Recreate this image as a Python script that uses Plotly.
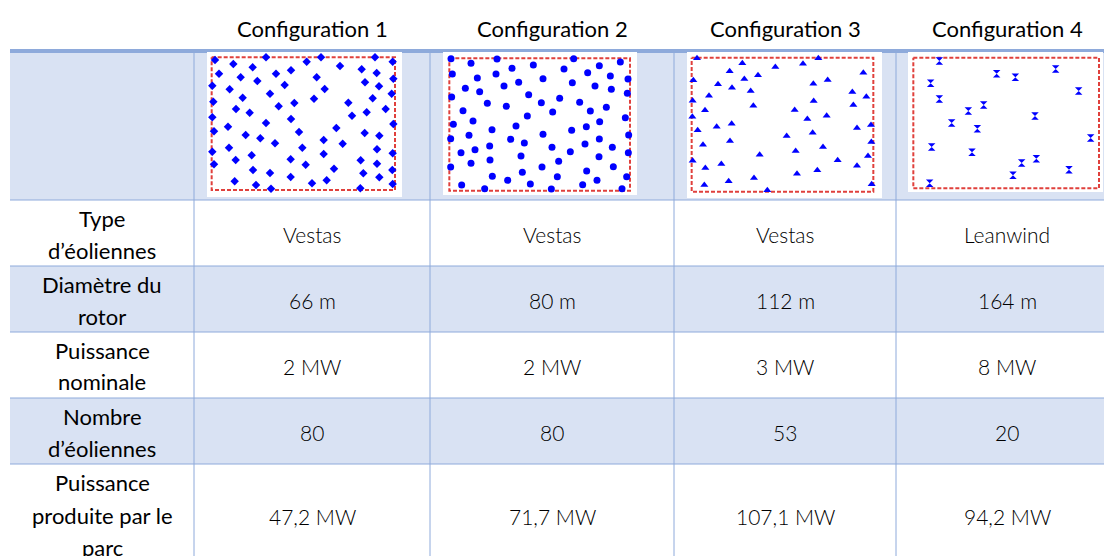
import plotly.graph_objects as go

W, H = 1104, 556

# ---------------- data ----------------
configs = ["Configuration 1", "Configuration 2", "Configuration 3", "Configuration 4"]
row_labels = ["Type\nd’éoliennes", "Diamètre du\nrotor", "Puissance\nnominale",
              "Nombre\nd’éoliennes", "Puissance\nproduite par le\nparc"]
turbine_type = ["Vestas", "Vestas", "Vestas", "Leanwind"]
rotor_diameter_m = [66, 80, 112, 164]
rated_power_mw = [2, 2, 3, 8]
n_turbines = [80, 80, 53, 20]
park_power_mw = [47.2, 71.7, 107.1, 94.2]

# turbine layouts (site units, y grows downward)
cfg1_x = [45, 100, 198, 320, 363, 420, 525, 578, 57, 158, 228, 273, 485, 530, 122, 172, 350, 495, 580,
          37, 89, 254, 374, 537, 128, 210, 342, 518, 575, 40, 283, 445, 108, 149, 236, 500, 557, 37, 273, 456,
          84, 198, 580, 42, 137, 297, 409, 494, 538, 181, 225, 371, 428, 87, 307, 531, 37, 155, 371, 578,
          107, 272, 482, 42, 317, 531, 159, 402, 577, 210, 490, 272, 538, 104, 380, 336, 168, 578, 213, 481]
cfg1_y = [45, 57, 37, 50, 37, 63, 37, 50, 86, 67, 86, 76, 73, 84, 97, 108, 97, 112, 101,
          122, 133, 120, 132, 124, 158, 146, 161, 160, 146, 170, 174, 173, 192, 203, 184, 202, 192, 217, 222, 212,
          245, 234, 237, 259, 270, 261, 249, 264, 272, 280, 295, 285, 296, 308, 308, 313, 320, 331, 327, 325,
          345, 343, 346, 358, 359, 356, 375, 371, 375, 384, 385, 396, 397, 409, 406, 415, 420, 417, 431, 430]

cfg2_x = [48, 108, 186, 295, 416, 493, 556, 52, 231, 387, 458, 526, 127, 183, 324, 579,
          91, 134, 207, 251, 412, 480, 529, 50, 281, 374, 577, 157, 214, 319, 434, 514, 84, 353, 466,
          114, 277, 571, 494, 55, 243, 454, 171, 410, 102, 324, 581, 493, 47, 227, 268, 450,
          164, 351, 532, 78, 120, 406, 580, 258, 492, 165, 371, 108, 321, 535, 47, 262, 455,
          172, 367, 575, 218, 486, 80, 286, 443, 149, 349, 561]
cfg2_y = [41, 55, 42, 60, 41, 62, 51, 87, 70, 72, 83, 93, 99, 87, 101, 102,
          130, 140, 123, 112, 113, 123, 133, 156, 149, 160, 145, 175, 184, 173, 172, 187, 197, 201, 198,
          228, 213, 218, 230, 238, 243, 245, 254, 256, 271, 268, 270, 282, 281, 283, 294, 297,
          303, 307, 307, 323, 314, 320, 323, 333, 335, 345, 349, 355, 366, 365, 366, 382, 378,
          394, 395, 395, 406, 406, 420, 417, 419, 431, 432, 431]

cfg3_x = [51, 187, 286, 369, 415, 149, 550, 40, 193, 234, 443, 114, 156, 400, 212, 517, 87, 559,
          38, 401, 220, 520, 75, 344, 37, 440, 382, 110, 155, 573, 531, 53, 398, 320, 150, 574,
          69, 429, 347, 239, 564, 38, 473, 124, 531, 76, 412, 351, 222, 146, 73, 575, 262]
cfg3_y = [40, 55, 66, 56, 40, 79, 83, 106, 102, 91, 105, 118, 128, 116, 138, 141, 152, 155,
          167, 168, 182, 180, 196, 195, 215, 212, 222, 245, 236, 240, 249, 256, 263, 273, 288, 291,
          299, 306, 318, 329, 333, 347, 346, 357, 362, 369, 376, 386, 399, 409, 420, 418, 436]

cfg4_x = [118, 290, 346, 467, 92, 536, 118, 251, 205, 405, 155, 232, 572, 95, 216, 409, 365, 507, 339, 89]
cfg4_y = [48, 86, 97, 72, 115, 138, 162, 180, 198, 213, 234, 251, 279, 306, 322, 341, 354, 374, 391, 415]

# site boundaries (site units)
site_x0 = [35, 43, 35, 40]
site_x1 = [585, 585, 580, 597]
site_y0 = [37, 40, 38, 38]
site_y1 = [435, 437, 440, 430]

layouts_x = [cfg1_x, cfg2_x, cfg3_x, cfg4_x]
layouts_y = [cfg1_y, cfg2_y, cfg3_y, cfg4_y]

# ---------------- styling / layout ----------------
BLUE_BG = "#d9e2f3"
LINE = "#8eaadb"
col_edges = [10, 194, 430, 674, 896, 1118]
row_edges = [200, 266, 332, 398, 464, 566]
symbols = ["diamond", "circle", "triangle-up", "hourglass"]
msize = [6.5, 7, 7, 7.5]
panel_left = [207, 443, 687, 908]
panel_right = [402, 637, 882, 1103]
panel_top = [52, 52, 52, 52]
panel_bottom = [197, 195, 198, 192]
origin_x = [200, 435, 680, 900]
origin_y = 45
SCALE = 3.0

FONT = "Lato, 'Noto Sans', sans-serif"


def px(x):
    return x / W


def py(y):
    return 1 - y / H


fig = go.Figure()
shapes = []
annotations = []


def rect(x0, y0, x1, y1, color):
    shapes.append(dict(type="rect", xref="paper", yref="paper", x0=px(x0), x1=px(x1),
                       y0=py(y1), y1=py(y0), fillcolor=color, line=dict(width=0), layer="below"))


def line(x0, y0, x1, y1, color, width=1):
    shapes.append(dict(type="line", xref="paper", yref="paper", x0=px(x0), x1=px(x1),
                       y0=py(y0), y1=py(y1), line=dict(color=color, width=width), layer="below"))


def text(x, y, t, size, weight=400):
    annotations.append(dict(xref="paper", yref="paper", x=px(x), y=py(y), text=t,
                            showarrow=False, xanchor="center", yanchor="middle",
                            font=dict(family=FONT, size=size, color="#000000", weight=weight)))


# row backgrounds
rect(col_edges[0], 53, W, 200, BLUE_BG)
for i in range(len(row_edges) - 1):
    if i % 2 == 1:
        rect(col_edges[0], row_edges[i], W, row_edges[i + 1], BLUE_BG)
# header thick line
rect(col_edges[0], 49, W, 53, LINE)
# grid lines
for y in row_edges[:-1]:
    line(col_edges[0], y, W, y, LINE)
for x in col_edges[1:-1]:
    line(x, 53, x, H, LINE)

# white image panels
for i in range(4):
    rect(panel_left[i], panel_top[i], panel_right[i], panel_bottom[i], "#ffffff")

# header texts
for i, c in enumerate(configs):
    cx = (col_edges[i + 1] + col_edges[i + 2]) / 2
    text(cx, 28, c, 22)

# row labels
label_cx = (col_edges[0] + col_edges[1]) / 2
row_centers = [233, 299, 365, 431, 515]
for r, lab in enumerate(row_labels):
    lines = lab.split("\n")
    c = row_centers[r]
    if len(lines) == 2:
        offs = [-15, 17]
    else:
        offs = [-33, 0, 32]
    for ln, o in zip(lines, offs):
        text(label_cx, c + o, ln, 22)

# values
values = [
    turbine_type,
    [f"{d} m" for d in rotor_diameter_m],
    [f"{p} MW" for p in rated_power_mw],
    [f"{n}" for n in n_turbines],
    [f"{p:.1f}".replace(".", ",") + " MW" for p in park_power_mw],
]
for r, vals in enumerate(values):
    for i, v in enumerate(vals):
        cx = (col_edges[i + 1] + col_edges[i + 2]) / 2
        text(cx, row_centers[r] + 1, v, 21, weight=300)

# layout thumbnails
layout_axes = {}
for i in range(4):
    k = i + 2
    xa, ya = f"x{k}", f"y{k}"
    bx = [site_x0[i], site_x1[i], site_x1[i], site_x0[i], site_x0[i]]
    by = [site_y0[i], site_y0[i], site_y1[i], site_y1[i], site_y0[i]]
    fig.add_trace(go.Scatter(x=bx, y=by, mode="lines", xaxis=xa, yaxis=ya,
                             line=dict(color="#e0403c", width=2, dash="4px,2px"),
                             hoverinfo="skip", showlegend=False, cliponaxis=False))
    fig.add_trace(go.Scatter(x=layouts_x[i], y=layouts_y[i], mode="markers", xaxis=xa, yaxis=ya,
                             marker=dict(symbol=symbols[i], size=msize[i], color="#0000ff",
                                         line=dict(width=0)),
                             name=configs[i], showlegend=False, cliponaxis=False))
    layout_axes[f"xaxis{k}"] = dict(domain=[px(panel_left[i]), px(panel_right[i])],
                                    range=[SCALE * (panel_left[i] - origin_x[i]),
                                           SCALE * (panel_right[i] - origin_x[i])],
                                    visible=False, fixedrange=True, anchor=ya)
    layout_axes[f"yaxis{k}"] = dict(domain=[py(panel_bottom[i]), py(panel_top[i])],
                                    range=[SCALE * (panel_bottom[i] - origin_y),
                                           SCALE * (panel_top[i] - origin_y)],
                                    visible=False, fixedrange=True, anchor=xa)

fig.update_layout(
    width=W, height=H, margin=dict(l=0, r=0, t=0, b=0),
    paper_bgcolor="#ffffff", plot_bgcolor="rgba(0,0,0,0)",
    xaxis=dict(visible=False), yaxis=dict(visible=False),
    shapes=shapes, annotations=annotations, showlegend=False,
    **layout_axes,
)

fig.write_html("out.html", config={"displayModeBar": False},
               post_script="document.body.style.margin='0';document.body.style.overflow='hidden';")
